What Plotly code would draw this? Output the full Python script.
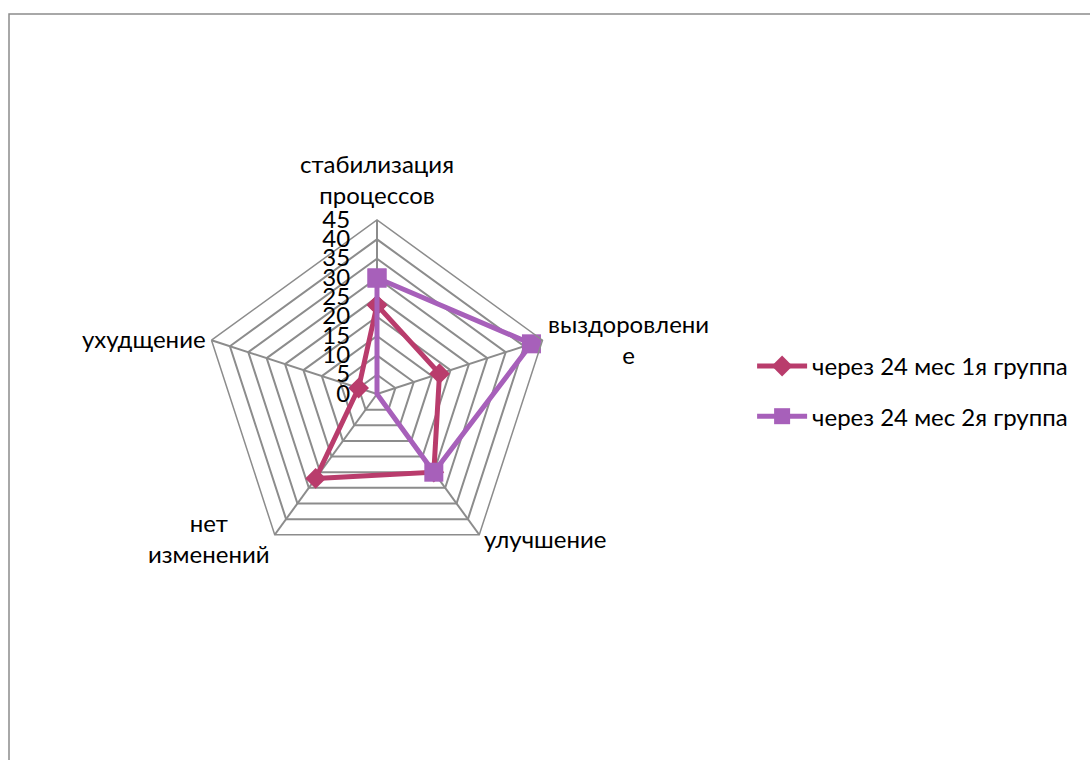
import math
import plotly.graph_objects as go

# Categories around the radar, clockwise from the top
categories = [
    "стабилизация процессов",
    "выздоровление",
    "улучшение",
    "нет изменений",
    "ухудщение",
]
# Wrapped text shown next to each spoke
category_labels = [
    "стабилизация<br>процессов",
    "выздоровлени<br>е",
    "улучшение",
    "нет<br>изменений",
    "ухудщение",
]
group1_name = "через 24 мес 1я группа"
group2_name = "через 24 мес 2я группа"
group1_values = [23, 17, 25, 27, 5]
group2_values = [30, 42, 25, 0, 0]
radial_ticks = [0, 5, 10, 15, 20, 25, 30, 35, 40, 45]

COLOR1 = "#B93C6C"
COLOR2 = "#A760BA"
GRID = "#8C8C8C"
FONT = "Lato, 'Open Sans', sans-serif"
FS = 24


def closed(seq):
    return list(seq) + [seq[0]]


fig = go.Figure()
fig.add_trace(go.Scatterpolar(
    r=closed(group1_values), theta=closed(categories),
    mode="lines+markers", name=group1_name, legendgroup="g1",
    line=dict(color=COLOR1, width=5),
    marker=dict(symbol="diamond", size=16, color=COLOR1),
))
fig.add_trace(go.Scatterpolar(
    r=closed(group2_values), theta=closed(categories),
    mode="lines+markers", name=group2_name, legendgroup="g2",
    line=dict(color=COLOR2, width=5),
    marker=dict(symbol="square", size=19, color=COLOR2),
))

W, H = 1090, 760
cx, cy, rad = 377, 394, 174

# Category labels placed just outside the outer ring vertex of each spoke
label_anchor = [("center", "bottom"), ("left", "middle"), ("left", "middle"),
                ("right", "middle"), ("right", "middle")]
annotations = []
n = len(categories)
for i, (text, (xa, ya)) in enumerate(zip(category_labels, label_anchor)):
    ang = 2 * math.pi * i / n
    gap = 9 if i == 0 else 4
    px = cx + (rad + gap) * math.sin(ang)
    py = cy - (rad + gap) * math.cos(ang)
    annotations.append(dict(
        x=px / W, y=1 - py / H, xref="paper", yref="paper",
        text=text, showarrow=False, xanchor=xa, yanchor=ya,
        font=dict(size=FS, family=FONT, color="#000000"),
    ))

fig.update_layout(
    width=W, height=H,
    margin=dict(l=0, r=0, t=0, b=0),
    paper_bgcolor="white",
    font=dict(family=FONT, size=FS, color="#000000"),
    polar=dict(
        domain=dict(x=[(cx - rad) / W, (cx + rad) / W],
                    y=[(H - cy - rad) / H, (H - cy + rad) / H]),
        gridshape="linear",
        bgcolor="white",
        radialaxis=dict(
            range=[0, 45], tickvals=radial_ticks, angle=90,
            showline=False, gridcolor=GRID, gridwidth=1.5,
            ticks="outside", ticklen=18, tickcolor="rgba(0,0,0,0)",
            tickfont=dict(size=FS), tickangle=90,
            side="counterclockwise",
        ),
        angularaxis=dict(
            rotation=90, direction="clockwise",
            gridcolor=GRID, gridwidth=1.5,
            linecolor=GRID, linewidth=1.5,
            ticks="", showticklabels=False,
        ),
    ),
    annotations=annotations,
    legend=dict(
        x=0.69, y=0.485, xanchor="left", yanchor="middle",
        font=dict(size=FS), tracegroupgap=16, itemwidth=50,
    ),
    shapes=[dict(
        type="rect", xref="paper", yref="paper",
        x0=9 / W, x1=1.02, y0=-0.02, y1=1 - 14 / H,
        line=dict(color=GRID, width=1.5),
    )],
)

fig.write_html("out.html")
